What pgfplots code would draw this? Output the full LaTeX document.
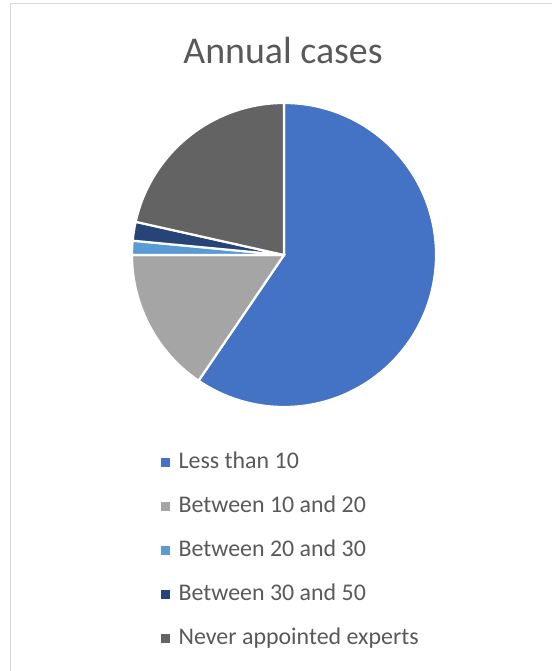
\documentclass[border=0pt]{standalone}
\usepackage{pgfplots}
\pgfplotsset{compat=1.18}
\usepackage{pgfplotstable}
\usepackage{fontspec}
\setmainfont{Carlito}
\definecolor{c1}{HTML}{4472C4}
\definecolor{c2}{HTML}{A5A5A5}
\definecolor{c3}{HTML}{5B9BD5}
\definecolor{c4}{HTML}{264478}
\definecolor{c5}{HTML}{636363}
\definecolor{txt}{HTML}{595959}
\definecolor{framec}{HTML}{D9D9D9}

\pgfplotstableread{
value
59.5
15.5
1.5
2.0
21.5
}\piedata

\begin{document}
\begin{tikzpicture}[x=1bp,y=1bp]
\path[use as bounding box] (0,0) rectangle (552,671);
\draw[framec, line width=1bp] (10.5,0) -- (10.5,667.5) -- (552,667.5);
\node[text=txt, font=\fontsize{38}{44}\selectfont, anchor=base, inner sep=0] at (283bp,607bp) {Annual cases};
\begin{axis}[at={(284bp,416bp)}, anchor=center, width=304bp, height=304bp, scale only axis,
  xmin=-1, xmax=1, ymin=-1, ymax=1, hide axis, clip=false,
  legend image code/.code={\fill[#1] (0bp,-4bp) rectangle (8bp,4bp); \path (17bp,0bp);},
  legend cell align=left,
  legend style={draw=none, fill=none, inner sep=0pt, column sep=0pt,
    font=\fontsize{24}{28}\selectfont, text=txt,
    nodes={inner sep=0pt, text height=17bp, text depth=5bp},
    row sep=22bp,
    at={(axis description cs:0.0954,-0.146)}, anchor=north west},
]
\def\cum{0}
\pgfplotsforeachungrouped \i in {0,...,4} {
  \pgfplotstablegetelem{\i}{value}\of\piedata
  \pgfmathsetmacro\startA{90-3.6*\cum}
  \pgfmathsetmacro\newcum{\cum+\pgfplotsretval}
  \pgfmathsetmacro\endA{90-3.6*\newcum}
  \pgfmathsetmacro\xs{cos(\startA)}
  \pgfmathsetmacro\ys{sin(\startA)}
  \pgfmathtruncatemacro\ci{\i+1}
  \edef\temp{\noexpand\fill[c\ci, draw=white, line width=2.2bp] (axis cs:0,0) -- (axis cs:\xs,\ys) arc[start angle=\startA, end angle=\endA, radius=152bp] -- cycle;}
  \temp
  \global\let\cum\newcum
}
\addlegendimage{c1}\addlegendentry{Less than 10}
\addlegendimage{c2}\addlegendentry{Between 10 and 20}
\addlegendimage{c3}\addlegendentry{Between 20 and 30}
\addlegendimage{c4}\addlegendentry{Between 30 and 50}
\addlegendimage{c5}\addlegendentry{Never appointed experts}
\end{axis}
\end{tikzpicture}
\end{document}
